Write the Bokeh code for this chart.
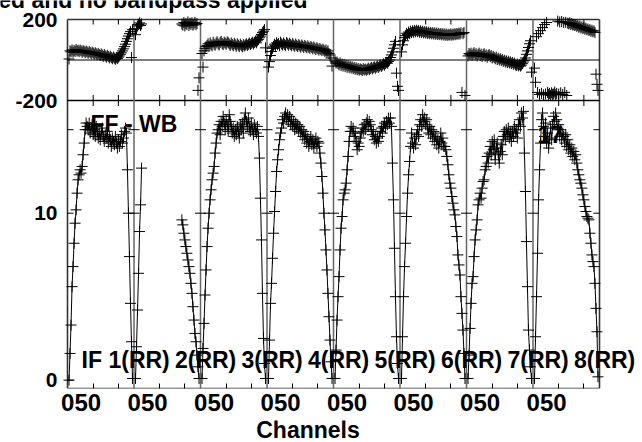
import math
from bokeh.plotting import figure
from bokeh.layouts import column
from bokeh.models import (Range1d, LinearAxis, FixedTicker, Label, LabelSet, ColumnDataSource)
from bokeh.core.properties import value
from bokeh.embed import file_html
from bokeh.resources import INLINE

nan = math.nan

# ---------------- data ----------------
if_names = ["IF 1(RR)", "2(RR)", "3(RR)", "4(RR)", "5(RR)", "6(RR)", "7(RR)", "8(RR)"]
x_tick_text = "050"
x_tick_channels = [25, 50]
title_text = "ed and no bandpass applied"
x_title = "Channels"
source_text = "FF - WB"
corner_text = "17"
amp_label_ticks = [0, 10]
amp_mark_ticks = [10, 15]
phase_label_ticks = [-200, 200]

amp_if1 = [0.0, 1.6, 3.3, 5.6, 6.8, 8.2, 9.4, 10.2, 11.2, 12.0, 12.3, 12.6, 12.4, 12.8, 13.5, 14.2, 15.0, 15.4,
           15.2, 15.0, 15.4, 14.8, 15.1, 15.3, 14.7, 15.0, 14.6, 15.2, 14.9, 14.5,
           14.8, 14.4, 14.9, 15.1, 14.6, 14.3, 14.7, 14.5, 14.9, 14.2, 14.6, 14.4, 14.0, 14.5, 14.3,
           14.1, 14.6, 14.2, 13.9, 14.4, 14.0, 14.3, 14.7, 14.2, 14.5, 14.9, 15.1, 14.8,
           12.6, 10.0, 7.4, 4.6, 2.3, 0.1]
amp_if2 = ([0.1, 2.0, 4.2, 6.4, 8.9, 10.5, 12.7] + [nan] * 39 +
           [9.6, 9.3, 8.8, 8.4, 8.0, 7.6, 7.2, 6.8, 6.4, 5.8, 5.2, 4.4, 3.6, 2.8, 2.3, 1.5, 0.8, 0.1])
amp_if3 = [0.1, 1.9, 3.4, 5.1, 6.6, 8.0, 9.1, 10.0, 10.8, 11.4, 12.0, 12.4, 12.8, 13.6, 14.2, 14.8,
           15.0, 15.3, 14.7, 15.5, 15.2, 15.8, 15.4, 15.0, 15.6, 15.3, 14.9, 15.9, 15.5, 15.2,
           14.8, 15.1, 14.6, 15.0, 14.7, 15.2, 14.9, 14.5, 15.3, 15.0, 15.4, 14.8, 15.6, 16.0, 15.5,
           15.2, 15.7, 15.1, 14.9, 15.4, 15.0, 14.7, 15.3, 15.0, 14.8, 15.2, 14.6,
           13.3, 10.9, 8.4, 5.2, 2.5, 1.0, 0.1]
amp_if4 = [0.1, 2.4, 4.6, 5.8, 7.3, 8.8, 10.1, 11.3, 12.5, 13.2, 13.8, 14.4, 14.8, 15.1, 15.6, 15.4, 15.8,
           16.0, 15.7, 15.9, 15.5, 15.8, 15.3, 15.6, 15.2, 15.5, 15.0, 15.4, 15.1,
           15.3, 14.9, 15.2, 14.8, 15.0, 14.6, 14.9, 14.4, 14.7, 14.2, 14.5, 14.0, 14.3, 14.6, 14.1,
           14.4, 13.9, 14.2, 14.5, 14.0, 14.3,
           14.2, 13.6, 13.0, 12.2, 11.2, 10.0, 9.0, 7.8, 6.6, 5.2, 3.8, 2.4, 1.1, 0.1]
amp_if5 = [0.1, 1.8, 3.6, 5.0, 6.2, 7.8, 9.1, 9.8, 10.8, 11.2, 11.4, 11.8, 12.6, 13.4, 14.3, 14.9,
           15.2, 14.9, 15.1, 14.6, 14.8, 14.3, 13.8, 14.2, 14.0, 14.5,
           14.8, 15.1, 14.9, 15.3, 15.0, 15.4, 15.6, 15.2, 15.5, 15.3,
           15.0, 14.7, 14.9, 14.4, 14.6, 14.2, 14.5, 14.3, 14.6, 14.9,
           15.1, 14.8, 15.2, 15.4, 15.1, 15.5, 15.3, 15.7, 15.4, 15.7, 15.2,
           13.0, 10.8, 7.9, 5.0, 2.6, 1.0, 0.1]
amp_if6 = [0.1, 2.6, 5.0, 6.8, 8.2, 9.8, 11.2, 12.3, 13.1, 14.0, 14.8,
           14.2, 13.9, 14.5, 14.1, 14.7, 15.0, 14.6, 15.3, 15.6, 15.2,
           15.9, 15.5, 15.7, 15.3, 15.6, 15.1, 14.8, 15.2, 14.7, 15.0,
           14.5, 14.9, 14.3, 14.6, 14.1, 14.4, 13.9, 14.3, 14.8, 14.2, 14.5, 14.0,
           14.0, 13.8, 13.4, 12.9, 12.3, 11.8, 11.5, 11.0, 10.6, 10.2, 9.9, 9.2, 8.6, 7.5, 6.9,
           6.3, 5.0, 4.0, 3.0, 1.6, 0.1]
amp_if7 = [0.1, 1.5, 3.1, 4.6, 5.8, 6.2, 7.4, 8.4, 9.0, 9.6,
           10.5, 10.8, 11.2, 10.9, 11.5, 11.9, 12.0, 12.6, 12.8, 13.4,
           13.0, 13.6, 14.0, 13.5, 14.3, 13.8, 14.4, 13.2, 13.9, 14.2,
           13.6, 13.0, 13.7, 14.1, 13.5, 14.6, 14.9, 14.4, 15.0, 14.7,
           15.1, 14.5, 14.8, 14.3, 14.9, 14.6, 15.2, 14.8, 15.0, 14.5,
           15.3, 15.6, 15.2, 16.0, 15.7, 16.1,
           13.6, 11.3, 8.3, 5.6, 3.0, 1.8, 0.8, 0.1]
amp_if8 = [0.1, 2.6, 5.0, 7.6, 10.8, 12.6, 14.2, 15.6, 16.0,
           15.2, 14.6, 15.4, 14.2, 14.8, 13.9, 14.5, 15.1, 14.4, 15.3,
           15.8, 15.5, 16.0, 15.6, 15.0, 15.3, 14.6, 15.0, 14.4, 14.8,
           14.6, 14.2, 14.7, 14.0, 14.4, 13.8, 14.1, 13.6, 13.9, 13.4,
           13.7, 13.2, 13.5, 13.0, 12.6, 12.3, 12.0, 11.8, 11.5, 11.1,
           10.8, 10.4, 10.1, 9.8, 9.7, 9.6, 8.8, 8.2, 7.5, 7.1,
           6.8, 5.8, 4.3, 2.9, 0.2]

phase_if1 = [5, 45, 40, 50, 38, 47, 42, 52, 44, 48,
             41, 49, 45, 38, 46, 43, 36, 44, 40, 33,
             42, 37, 30, 39, 34, 28, 36, 31, 25, 33,
             27, 22, 30, 24, 18, 27, 20, 14, 23, 17,
             10, 19, 12, 6, 15, 9, 3, 12, 7, 14,
             20, 28, 36, 45, 55, 66, 78, 92, 105, 118,
             130, 140, 12, 150]
phase_if2 = ([125, 155, 168, 176, 183, 170, 178] + [nan] * 39 +
             [178, 172, 185, 168, 180, 175, 188, 170, 182, 176, 184, 172, 178, 186, 174, 180, -150, -88])
phase_if3 = [32, -35, 45, 58, 66,
             72, 80, 68, 85, 75, 70, 88, 78, 73, 84,
             90, 79, 74, 86, 92, 81, 76, 88, 83, 78,
             90, 85, 79, 72, 84, 77, 70, 82, 75, 68,
             80, 73, 66, 78, 71, 65, 76, 69, 74, 80,
             72, 78, 84, 76, 82, 88, 79, 86, 92, 85,
             95, 102, 110, 118, 126, 135, 142, 150, 60]
phase_if4 = [-35, -8, 22, 42, 58, 68,
             78, 72, 85, 76, 82, 70, 88, 79, 74, 84,
             77, 71, 86, 80, 73, 83, 76, 70, 81, 74,
             68, 79, 72, 66, 76, 70, 64, 74, 68, 62,
             72, 66, 60, 70, 63, 58, 67, 61, 55, 64,
             58, 52, 61, 55, 49, 57, 51, 46, 54, 48,
             42, 50, 38, 45, 32, 25, 10, -30]
phase_if5 = [-5, -15, -10,
             -18, -24, -14, -28, -20, -30, -22, -33, -25, -36,
             -28, -38, -31, -40, -34, -43, -37, -46, -39, -48,
             -42, -50, -44, -47, -52, -43, -49, -45, -51, -46,
             -40, -48, -42, -36, -44, -38, -33, -41, -35, -29,
             -37, -30, -24, -32, -25, -19, -26, -18, -12, -16,
             -8, 0, 12, 25, 40, 58, 75, 92, -65, -130, -150]
phase_if6 = [40, 75, 95, 110,
             120, 132, 126, 138, 130, 142, 135, 144, 137, 146,
             139, 147, 140, 145, 137, 144, 136, 142, 134, 140,
             133, 139, 131, 137, 130, 136, 129, 135, 128, 134,
             127, 133, 126, 132, 125, 131, 124, 130, 123, 129,
             122, 128, 121, 127, 123, 129, 122, 128, 124, 130,
             125, 131, 127, 133, 128, 134, -160, 130, 136, -175]
phase_if7 = [20, 32,
             26, 34, 22, 30, 36, 24, 31, 20, 28, 34,
             22, 29, 17, 26, 31, 19, 25, 14, 22, 27,
             16, 22, 10, 18, 12, 6, 14, 2, 9, 0,
             6, -3, 3, -7, -1, -10, -4, -13, -6, -15,
             -9, -18, -12, -21, -15, -24, -27, -20, -29, -23,
             -30, -25, -18, -10, -2, 10, 28, 45, 62, 80, 95, -60]
phase_if8 = [-40, -110, 115, -160, 130, -170, 145, -165, 160, -172, 175, -168, 185,
             -160, -170, -165, -175, -162, -170, -168, -158, -172, -165,
             192, -168, 188, -162, 190, -170, 185, -160, 186, -175,
             182, 178, 184, 175, 180, 172, 176, 170, 174, 166,
             170, 162, 167, 158, 163, 155, 160, 152, 157, 149,
             153, 146, 150, 142, 147, 139, 144, 136, -70, -120, -150]

amp_by_if = [amp_if1, amp_if2, amp_if3, amp_if4, amp_if5, amp_if6, amp_if7, amp_if8]
phase_by_if = [phase_if1, phase_if2, phase_if3, phase_if4, phase_if5, phase_if6, phase_if7, phase_if8]

# ---------------- layout (window pixels) ----------------
W = 642
FOOT_H = 22
MAIN_H = 442 - FOOT_H
BOX_L, BOX_R = 67, 599            # box holding the 8 IF panels
BOX_T, BOX_MID, BOX_B = 19, 100, 388
MB = MAIN_H - BOX_B               # room under the box for the channel tick labels
DESC = 5                          # text descent below the baseline (23px bold sans)

N_IF = len(amp_by_if)
N_CH = len(amp_if1)
IF_SLOT = 66
X_SPAN = N_IF * IF_SLOT
UNIT_PX = (BOX_R - BOX_L) / X_SPAN
AMP_LO, AMP_TOP = -0.5, 16.75
AMP_PX = (BOX_B - BOX_MID) / (AMP_TOP - AMP_LO)
PH_LO, PH_HI = -200, 200
PH_PX = (BOX_MID - BOX_T) / (PH_HI - PH_LO)


def dx(px):
    return (px - BOX_L) / UNIT_PX


def dy(py):
    return AMP_LO + (BOX_B - py) / AMP_PX


def dph(py):
    return PH_LO + (BOX_MID - py) / PH_PX


Y_TOP = dy(BOX_T)

xs, amps, phs = [], [], []
for k in range(N_IF):
    for c in range(N_CH):
        xs.append(k * IF_SLOT + c + 1.5)
        amps.append(amp_by_if[k][c])
        phs.append(phase_by_if[k][c])
    xs.append((k + 1) * IF_SLOT)
    amps.append(nan)
    phs.append(nan)
src = ColumnDataSource(dict(x=xs, amp=amps, phase=phs))

FONT = "Liberation Sans"
TXT = dict(text_font=FONT, text_font_style="bold", text_font_size="23px", text_color="black",
           text_baseline="bottom")

p = figure(width=W, height=MAIN_H, x_range=Range1d(dx(0), dx(W)), y_range=Range1d(dy(BOX_B), dy(0)),
           output_backend="svg", toolbar_location=None, title=None,
           x_axis_type=None, y_axis_type=None, min_border=0,
           min_border_left=0, min_border_right=0, min_border_top=0, min_border_bottom=MB)
p.extra_y_ranges = {"phase": Range1d(dph(BOX_B), dph(0))}
p.outline_line_color = None
p.background_fill_color = "white"
p.border_fill_color = "white"

# channel axis
label_pos = [k * IF_SLOT + 13.5 for k in range(N_IF)]
minor_x = [k * IF_SLOT + t + 0.5 for k in range(N_IF) for t in x_tick_channels]
xb = LinearAxis(ticker=FixedTicker(ticks=label_pos, minor_ticks=minor_x),
                major_label_overrides={v: x_tick_text for v in label_pos})
xb.axis_line_color = None
xb.major_tick_in = 0
xb.major_tick_out = 0
xb.minor_tick_in = 5
xb.minor_tick_out = 0
xb.minor_tick_line_color = "black"
xb.major_label_text_font = FONT
xb.major_label_text_font_style = "bold"
xb.major_label_text_font_size = "24px"
xb.major_label_text_color = "black"
xb.major_label_standoff = 5
p.add_layout(xb, "below")

# box, panel divider and phase zero line
p.segment(x0=[0, 0, X_SPAN, 0], y0=[AMP_LO, Y_TOP, AMP_LO, AMP_LO],
          x1=[X_SPAN, X_SPAN, X_SPAN, 0], y1=[AMP_LO, Y_TOP, Y_TOP, Y_TOP],
          line_color="#333333", line_width=1.6)
p.segment(x0=[0], y0=[AMP_TOP], x1=[X_SPAN], y1=[AMP_TOP], line_color="black", line_width=1.5)
p.segment(x0=[0], y0=[0], x1=[X_SPAN], y1=[0], line_color="black", line_width=1,
          y_range_name="phase")
bnd = [k * IF_SLOT for k in range(1, N_IF)]
p.segment(x0=bnd, y0=[AMP_LO] * len(bnd), x1=bnd, y1=[Y_TOP] * len(bnd),
          line_color="#666666", line_width=1.5)

# tick marks
tick_y = 5 / AMP_PX
tick_x = 6 / UNIT_PX
p.segment(x0=minor_x, y0=[Y_TOP] * len(minor_x), x1=minor_x, y1=[Y_TOP - tick_y] * len(minor_x),
          line_color="black", line_width=1)
p.scatter(x=minor_x, y=[AMP_TOP] * len(minor_x), marker="dash", angle=math.pi / 2, size=11,
          line_color="black", line_width=1)
bx = [e for e in bnd for _ in amp_mark_ticks]
by = [t for _ in bnd for t in amp_mark_ticks]
p.scatter(x=bx, y=by, marker="dash", size=11, line_color="black", line_width=1)
left_ticks = sorted(set(amp_label_ticks + amp_mark_ticks))
p.segment(x0=[0] * len(left_ticks), y0=left_ticks, x1=[tick_x] * len(left_ticks), y1=left_ticks,
          line_color="black", line_width=1)
p.segment(x0=[X_SPAN - tick_x] * len(amp_mark_ticks), y0=amp_mark_ticks,
          x1=[X_SPAN] * len(amp_mark_ticks), y1=amp_mark_ticks, line_color="black", line_width=1)

# data
p.line("x", "amp", source=src, line_color="black", line_width=1)
p.scatter("x", "amp", source=src, marker="cross", size=11, line_color="black", line_width=1)
p.scatter("x", "phase", source=src, marker="cross", size=11, line_color="black", line_width=1,
          y_range_name="phase")

# value labels of both panels
ytl = ColumnDataSource(dict(
    x=[dx(BOX_L - 10)] * (len(amp_label_ticks) + len(phase_label_ticks)),
    y=[float(t) for t in amp_label_ticks] + [AMP_TOP, Y_TOP],
    text=[str(t) for t in amp_label_ticks] + [str(t) for t in phase_label_ticks]))
p.add_layout(LabelSet(x="x", y="y", text="text", source=ytl, text_align="right",
                      text_baseline="middle", text_font=value(FONT), text_font_style="bold",
                      text_font_size="21px", text_color="black"))

# texts
lab_src = ColumnDataSource(dict(x=[(k + 1) * IF_SLOT + 35.5 for k in range(N_IF)],
                                y=[dy(367 + DESC)] * N_IF, text=if_names))
p.add_layout(LabelSet(x="x", y="y", text="text", source=lab_src, text_align="right",
                      text_baseline="bottom", text_font=value(FONT), text_font_style="bold",
                      text_font_size="23px", text_color="black"))
p.add_layout(Label(x=dx(90), y=dy(131 + DESC), text=source_text, text_align="left", **TXT))
p.add_layout(Label(x=dx(537), y=dy(137 + DESC), text=corner_text, text_align="left", **TXT))
p.add_layout(Label(x=dx(307), y=dy(7.5 + DESC), text=title_text, text_align="right", **TXT))

# x-axis title strip
foot = figure(width=W, height=FOOT_H, x_range=Range1d(0, W), y_range=Range1d(0, FOOT_H),
              output_backend="svg", toolbar_location=None, title=None,
              x_axis_type=None, y_axis_type=None, min_border=0,
              min_border_left=0, min_border_right=0, min_border_top=0, min_border_bottom=0)
foot.outline_line_color = None
foot.background_fill_color = "white"
foot.border_fill_color = "white"
foot.add_layout(Label(x=307.5, y=442 - (437 + DESC), text=x_title, text_align="center", **TXT))

layout = column(p, foot, spacing=0)
open("out.html", "w").write(file_html(layout, INLINE))
